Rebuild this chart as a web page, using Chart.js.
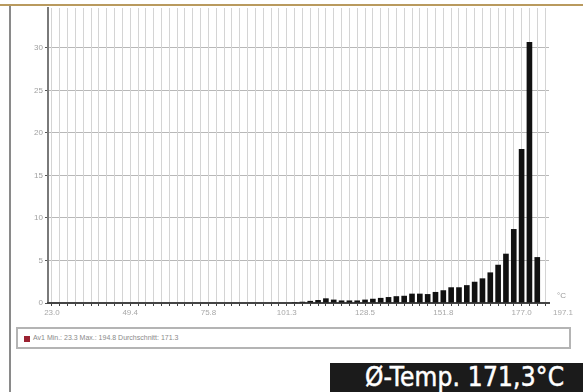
<!DOCTYPE html>
<html>
<head>
<meta charset="utf-8">
<script src="https://cdn.jsdelivr.net/npm/chart.js@4/dist/chart.umd.min.js"></script>
<style>
  html, body { margin:0; padding:0; background:#fff; width:583px; height:392px; overflow:hidden; font-family:"Liberation Sans", Arial, sans-serif; }
  #topline { position:absolute; left:0; top:4px; width:583px; height:2px; background:#b99a5e; }
  #leftline { position:absolute; left:9px; top:6px; width:2px; height:386px; background:#8a8a8a; }
  #wrap { position:absolute; left:0; top:0; width:583px; height:320px; }
  #legend { position:absolute; left:16px; top:327px; width:555px; height:22px; border:2px solid #b4b4b4; box-sizing:border-box; }
  #legend .sw { position:absolute; left:6px; top:7px; width:6px; height:6px; background:#9b2232; }
  #legend .tx { position:absolute; left:15px; top:5px; font-size:7px; color:#8a8a8a; white-space:nowrap; }
  #unit { position:absolute; left:557px; top:291px; font-size:8px; color:#999; }
  #lastlab { position:absolute; left:553px; top:308px; font-size:8px; color:#aaa; }
  #badge { position:absolute; left:330px; top:363px; width:253px; height:29px; background:#1b1b1b; }
  #badge span { position:absolute; left:35px; top:0px; font-family:"DejaVu Sans Condensed","Liberation Sans Narrow",sans-serif; font-stretch:condensed; font-size:26px; line-height:29px; color:#fff; white-space:nowrap; -webkit-text-stroke:0.5px #fff; letter-spacing:0.2px; }
</style>
</head>
<body>
<div id="topline"></div>
<div id="leftline"></div>
<div id="wrap"><canvas id="c" width="583" height="320"></canvas></div>
<div id="unit">°C</div>
<div id="lastlab">197.1</div>
<div id="legend"><div class="sw"></div><div class="tx">Av1 Min.: 23.3 Max.: 194.8 Durchschnitt: 171.3</div></div>
<div id="badge"><span>Ø-Temp. 171,3°C</span></div>
<script>
// Tick labels shown under every 10th bin
const tickLabels = ["23.0", "49.4", "75.8", "101.3", "128.5", "151.8", "177.0"];
// Number of temperature bins on the axis
const binCount = 64;
// Share (%) of each temperature bin
const values = [
  0, 0, 0, 0, 0, 0, 0, 0, 0, 0,
  0, 0, 0, 0, 0, 0, 0, 0, 0, 0,
  0, 0, 0, 0, 0, 0, 0, 0, 0, 0,
  0, 0.1, 0.15, 0.25, 0.35, 0.55, 0.4, 0.3, 0.3, 0.3,
  0.4, 0.5, 0.6, 0.7, 0.8, 0.85, 1.1, 1.1, 1.05, 1.3,
  1.5, 1.85, 1.85, 2.1, 2.5, 2.9, 3.6, 4.5, 5.8, 8.7,
  18.1, 30.7, 5.4, null
];
// Y axis tick values
const yTicks = [0, 5, 10, 15, 20, 25, 30];

const categories = [];
for (let i = 0; i < binCount; i++) categories.push(i % 10 === 0 ? (tickLabels[i / 10] || '') : '');

new Chart(document.getElementById('c'), {
  type: 'bar',
  data: {
    labels: categories,
    datasets: [{
      data: values,
      backgroundColor: '#111',
      borderWidth: 0,
      barPercentage: 0.72,
      categoryPercentage: 1.0
    }]
  },
  options: {
    responsive: false,
    animation: false,
    devicePixelRatio: 1,
    layout: { padding: { left: 0, top: 8, right: 34, bottom: 0 } },
    plugins: { legend: { display: false }, tooltip: { enabled: false } },
    scales: {
      y: {
        min: 0,
        max: 34.7,
        afterBuildTicks: (s) => { s.ticks = yTicks.map(v => ({ value: v })); },
        afterFit: (s) => { s.width = 48; },
        ticks: { color: '#a0a0a0', font: { size: 8, family: 'Liberation Sans' }, padding: 2 },
        grid: { color: '#b8b8b8', lineWidth: 1, tickColor: '#555', tickLength: 3 },
        border: { color: '#7a7a7a', width: 2 }
      },
      x: {
        afterFit: (s) => { s.height = 17; },
        ticks: {
          autoSkip: false, maxRotation: 0, minRotation: 0,
          color: '#a8a8a8', font: { size: 8, family: 'Liberation Sans' }, padding: 2,
          callback: (v, i) => categories[i]
        },
        grid: { offset: false, color: '#d4d4d4', lineWidth: 1, tickColor: '#444', tickLength: 3 },
        border: { color: '#444', width: 2 }
      }
    }
  }
});
</script>
</body>
</html>
